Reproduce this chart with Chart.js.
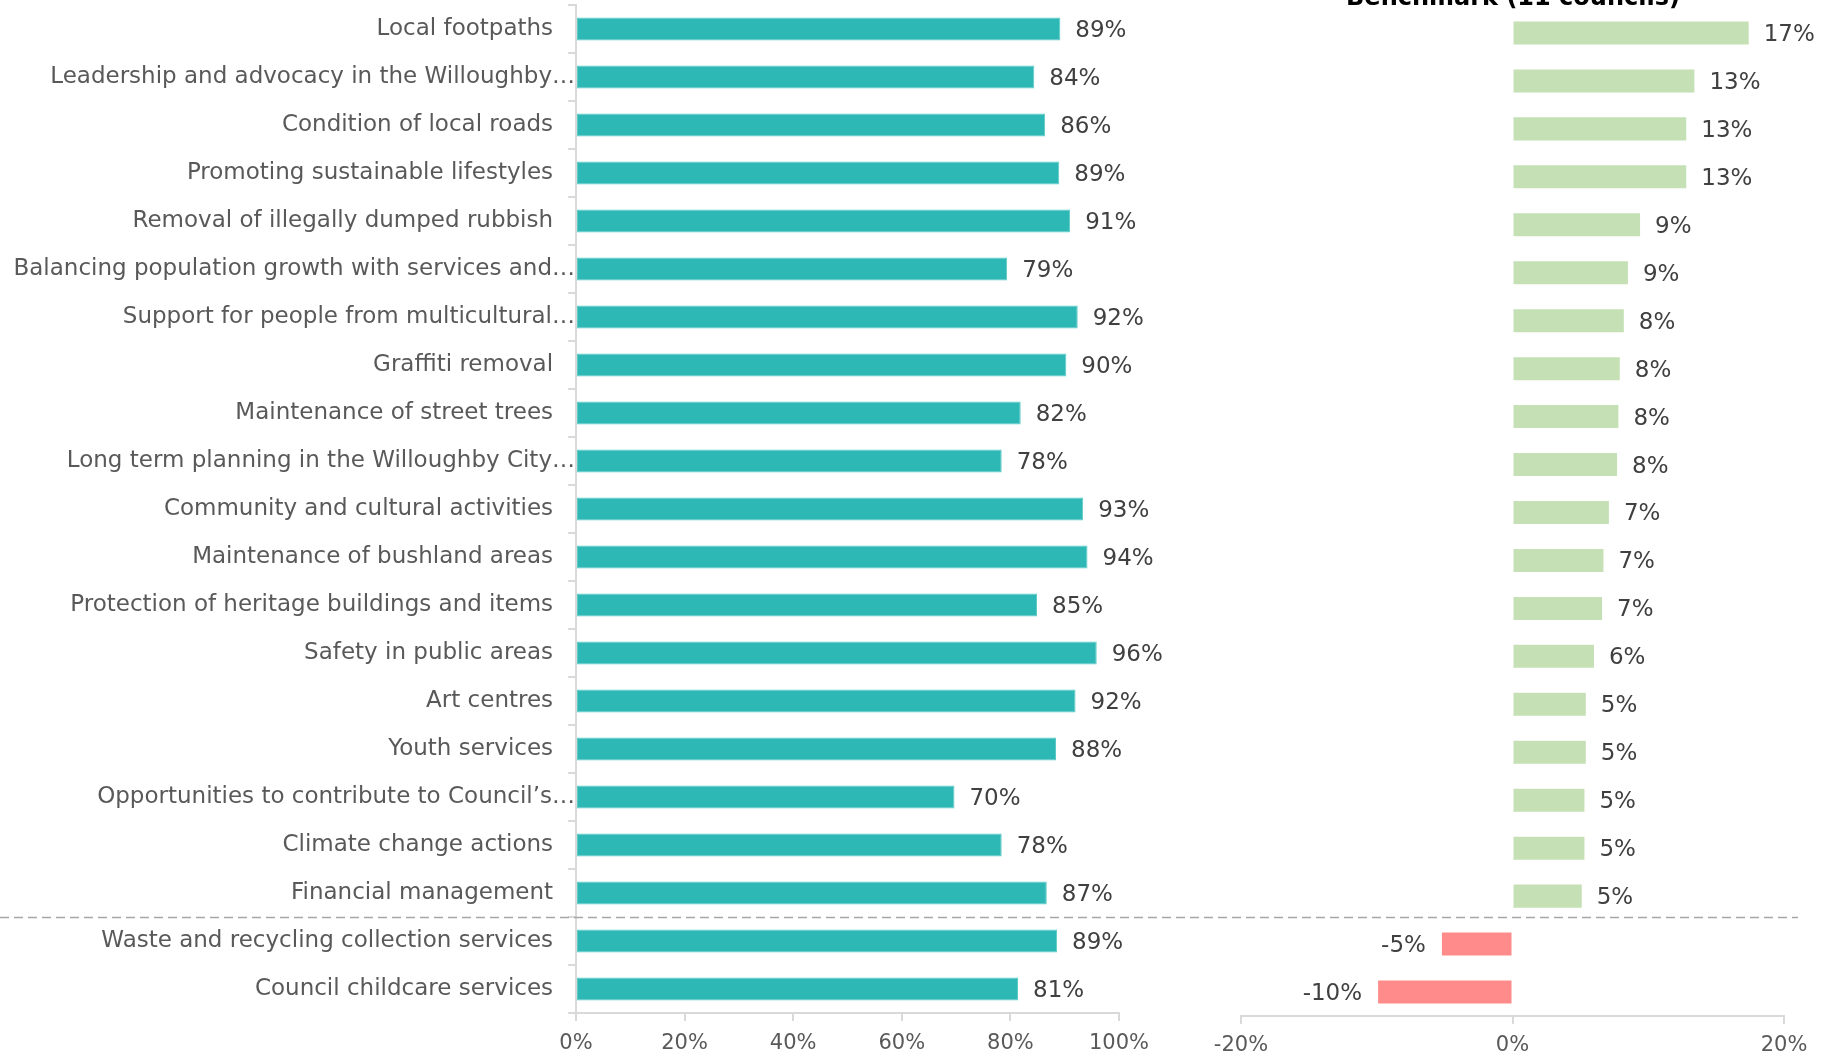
<!DOCTYPE html>
<html>
<head>
<meta charset="utf-8">
<script src="https://cdn.jsdelivr.net/npm/chart.js@4.4.1/dist/chart.umd.min.js"></script>
<style>
  html, body { margin: 0; padding: 0; background: #fff; overflow: hidden; }
  #wrap { position: relative; width: 1831px; height: 1057px; }
  #main-chart { position: absolute; left: 0; top: 0; }
  #bench-chart { position: absolute; left: 1200px; top: 0; }
  #bench-title {
    position: absolute; left: 1313px; top: -17px; width: 400px;
    text-align: center; font: bold 24px "DejaVu Sans", sans-serif; color: #000;
  }
</style>
</head>
<body>
<div id="wrap">
  <canvas id="main-chart" width="1831" height="1057"></canvas>
  <canvas id="bench-chart" width="631" height="1057"></canvas>
  <div id="bench-title">Benchmark (11 councils)</div>
</div>
<script>
const categories = [
  "Local footpaths",
  "Leadership and advocacy in the Willoughby…",
  "Condition of local roads",
  "Promoting sustainable lifestyles",
  "Removal of illegally dumped rubbish",
  "Balancing population growth with services and…",
  "Support for people from multicultural…",
  "Graffiti removal",
  "Maintenance of street trees",
  "Long term planning in the Willoughby City…",
  "Community and cultural activities",
  "Maintenance of bushland areas",
  "Protection of heritage buildings and items",
  "Safety in public areas",
  "Art centres",
  "Youth services",
  "Opportunities to contribute to Council’s…",
  "Climate change actions",
  "Financial management",
  "Waste and recycling collection services",
  "Council childcare services",
];

// % satisfied
const satisfaction = [89.2, 84.4, 86.4, 89.0, 91.0, 79.4, 92.4, 90.3, 81.9, 78.4, 93.4,
  94.2, 84.9, 95.9, 92.0, 88.4, 69.7, 78.4, 86.7, 88.6, 81.4];

// difference to benchmark
const benchmarkGap = [17.4, 13.4, 12.8, 12.8, 9.4, 8.5, 8.2, 7.9, 7.8, 7.7, 7.1,
  6.7, 6.6, 6.0, 5.4, 5.4, 5.3, 5.3, 5.1, -5.2, -9.9];

const satTickStep = 20;
const gapTickStep = 20;

const FONT = '"DejaVu Sans", sans-serif';
const TEXT = "#595959";
const AXIS = "#d9d9d9";

const valueLabels = {
  id: "valueLabels",
  afterDatasetsDraw(chart) {
    const ctx = chart.ctx;
    const data = chart.data.datasets[0].data;
    ctx.save();
    ctx.font = `23px ${FONT}`;
    ctx.fillStyle = "#404040";
    ctx.textBaseline = "middle";
    chart.getDatasetMeta(0).data.forEach((bar, i) => {
      const txt = `${Math.round(data[i])}%`;
      if (data[i] < 0) {
        ctx.textAlign = "right";
        ctx.fillText(txt, bar.x - 16, bar.y + 2);
      } else {
        ctx.textAlign = "left";
        ctx.fillText(txt, bar.x + 15, bar.y + 2);
      }
    });
    ctx.restore();
  },
};

// dashed divider between the last two rows, runs under both charts
const splitLine = {
  id: "splitLine",
  afterDraw(chart) {
    const y = chart.scales.y;
    const yy = Math.round((y.getPixelForValue(18) + y.getPixelForValue(19)) / 2) + 0.5;
    const ctx = chart.ctx;
    ctx.save();
    ctx.strokeStyle = "#a6a6a6";
    ctx.lineWidth = 1.5;
    ctx.setLineDash([9, 5]);
    ctx.beginPath();
    ctx.moveTo(0, yy);
    ctx.lineTo(1798, yy);
    ctx.stroke();
    ctx.restore();
  },
};

function xAxis(min, max, step, height, pad) {
  return {
    min, max,
    afterFit: (s) => { s.height = height; },
    ticks: {
      stepSize: step,
      color: TEXT,
      font: { family: FONT, size: 21 },
      padding: pad,
      callback: (v) => `${v}%`,
    },
    grid: { drawOnChartArea: false, drawTicks: true, tickLength: 8, color: AXIS, lineWidth: 2 },
    border: { display: true, color: AXIS, width: 2 },
  };
}

new Chart(document.getElementById("main-chart"), {
  type: "bar",
  data: {
    labels: categories,
    datasets: [{
      data: satisfaction,
      backgroundColor: "#2db7b5",
      borderColor: "#5ccac7",
      borderWidth: 1,
      borderSkipped: false,
      categoryPercentage: 1,
      barPercentage: 0.48,
    }],
  },
  options: {
    indexAxis: "y",
    responsive: false,
    animation: false,
    layout: { padding: { top: 5, right: 712, left: 0, bottom: 0 } },
    plugins: { legend: { display: false }, tooltip: { enabled: false } },
    scales: {
      x: xAxis(0, 100, satTickStep, 44, 10),
      y: {
        afterFit: (s) => { s.width = 576; s.paddingTop = 0; s.paddingBottom = 0; },
        ticks: {
          color: TEXT,
          font: { family: FONT, size: 23 },
          padding: -7,
          autoSkip: false,
          // cut-off labels run up to the axis, full ones sit a little further left
          callback: (v, i) => categories[i].endsWith("…") ? categories[i] : categories[i] + "   ",
        },
        grid: { drawOnChartArea: false, drawTicks: true, tickLength: 8, color: AXIS, lineWidth: 2 },
        border: { display: true, color: AXIS, width: 2 },
      },
    },
  },
  plugins: [valueLabels, splitLine],
});

new Chart(document.getElementById("bench-chart"), {
  type: "bar",
  data: {
    labels: categories,
    datasets: [{
      data: benchmarkGap,
      backgroundColor: benchmarkGap.map(v => v < 0 ? "#ff8b8b" : "#c5e0b4"),
      categoryPercentage: 1,
      barPercentage: 0.48,
    }],
  },
  options: {
    indexAxis: "y",
    responsive: false,
    animation: false,
    layout: { padding: { top: 9, right: 47, left: 41, bottom: 0 } },
    plugins: { legend: { display: false }, tooltip: { enabled: false } },
    scales: {
      x: xAxis(-20, 20, gapTickStep, 41, 9),
      y: { display: false },
    },
  },
  plugins: [valueLabels],
});
</script>
</body>
</html>
